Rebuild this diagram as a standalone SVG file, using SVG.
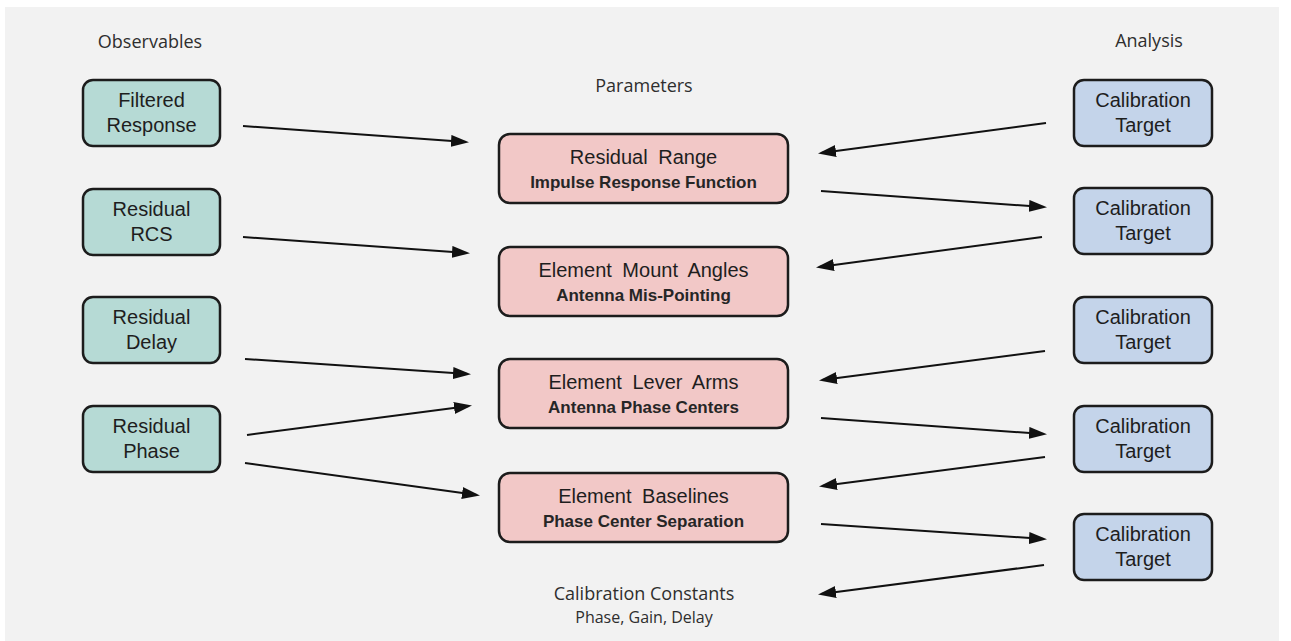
<svg xmlns="http://www.w3.org/2000/svg" width="1291" height="641" viewBox="0 0 1291 641">
  <style>
    .panel { fill: #f2f2f2; }
    .box { stroke: #1c1c1c; stroke-width: 2.5; }
    .obs { fill: #b6dad5; }
    .par { fill: #f2c8c7; }
    .ana { fill: #c4d4ea; }
    .lbl { font-family: "Liberation Sans", Arial, sans-serif; font-size: 20px; fill: #1e1e1e; text-anchor: middle; }
    .sub { font-family: "Liberation Sans", Arial, sans-serif; font-size: 17px; font-weight: bold; fill: #262626; text-anchor: middle; }
    .head { font-family: "Open Sans", "DejaVu Sans", sans-serif; font-size: 18px; fill: #2e2e2e; text-anchor: middle; }
    .small { font-family: "Open Sans", "DejaVu Sans", sans-serif; font-size: 16px; fill: #2e2e2e; text-anchor: middle; }
    .wide { word-spacing: 5px; }
    .conn path { fill: none; stroke: #111111; stroke-width: 2; marker-end: url(#arrow); }
  </style>
  <defs>
    <marker id="arrow" markerUnits="userSpaceOnUse" markerWidth="18" markerHeight="12" refX="15" refY="6" orient="auto">
      <path d="M0,0 L18,6 L0,12 Z" fill="#111111"/>
    </marker>
  </defs>

  <rect class="panel" x="5" y="7" width="1274" height="634"/>

  <!-- column headings -->
  <text class="head" x="150" y="48">Observables</text>
  <text class="head" x="644" y="92">Parameters</text>
  <text class="head" x="1149" y="47">Analysis</text>

  <!-- observables -->
  <g id="obs-filtered-response">
    <rect class="box obs" x="83" y="80" width="137" height="66" rx="10"/>
    <text class="lbl" x="151.5" y="107">Filtered</text>
    <text class="lbl" x="151.5" y="132">Response</text>
  </g>
  <g id="obs-residual-rcs">
    <rect class="box obs" x="83" y="189" width="137" height="66" rx="10"/>
    <text class="lbl" x="151.5" y="216">Residual</text>
    <text class="lbl" x="151.5" y="241">RCS</text>
  </g>
  <g id="obs-residual-delay">
    <rect class="box obs" x="83" y="297" width="137" height="66" rx="10"/>
    <text class="lbl" x="151.5" y="324">Residual</text>
    <text class="lbl" x="151.5" y="349">Delay</text>
  </g>
  <g id="obs-residual-phase">
    <rect class="box obs" x="83" y="406" width="137" height="66" rx="10"/>
    <text class="lbl" x="151.5" y="433">Residual</text>
    <text class="lbl" x="151.5" y="458">Phase</text>
  </g>

  <!-- parameters -->
  <g id="par-residual-range">
    <rect class="box par" x="499" y="134" width="289" height="69" rx="11"/>
    <text class="lbl wide" x="643.5" y="164">Residual Range</text>
    <text class="sub" x="643.5" y="188">Impulse Response Function</text>
  </g>
  <g id="par-mount-angles">
    <rect class="box par" x="499" y="247" width="289" height="69" rx="11"/>
    <text class="lbl wide" x="643.5" y="277">Element Mount Angles</text>
    <text class="sub" x="643.5" y="301">Antenna Mis-Pointing</text>
  </g>
  <g id="par-lever-arms">
    <rect class="box par" x="499" y="359" width="289" height="69" rx="11"/>
    <text class="lbl wide" x="643.5" y="389">Element Lever Arms</text>
    <text class="sub" x="643.5" y="413">Antenna Phase Centers</text>
  </g>
  <g id="par-baselines">
    <rect class="box par" x="499" y="473" width="289" height="69" rx="11"/>
    <text class="lbl wide" x="643.5" y="503">Element Baselines</text>
    <text class="sub" x="643.5" y="527">Phase Center Separation</text>
  </g>

  <g id="calibration-constants">
    <text class="head" x="644" y="600">Calibration Constants</text>
    <text class="small" x="644" y="623">Phase, Gain, Delay</text>
  </g>

  <!-- analysis -->
  <g id="ana-target-1">
    <rect class="box ana" x="1074" y="80" width="138" height="66" rx="10"/>
    <text class="lbl" x="1143" y="107">Calibration</text>
    <text class="lbl" x="1143" y="132">Target</text>
  </g>
  <g id="ana-target-2">
    <rect class="box ana" x="1074" y="188" width="138" height="66" rx="10"/>
    <text class="lbl" x="1143" y="215">Calibration</text>
    <text class="lbl" x="1143" y="240">Target</text>
  </g>
  <g id="ana-target-3">
    <rect class="box ana" x="1074" y="297" width="138" height="66" rx="10"/>
    <text class="lbl" x="1143" y="324">Calibration</text>
    <text class="lbl" x="1143" y="349">Target</text>
  </g>
  <g id="ana-target-4">
    <rect class="box ana" x="1074" y="406" width="138" height="66" rx="10"/>
    <text class="lbl" x="1143" y="433">Calibration</text>
    <text class="lbl" x="1143" y="458">Target</text>
  </g>
  <g id="ana-target-5">
    <rect class="box ana" x="1074" y="514" width="138" height="66" rx="10"/>
    <text class="lbl" x="1143" y="541">Calibration</text>
    <text class="lbl" x="1143" y="566">Target</text>
  </g>

  <!-- connectors -->
  <g id="connectors" class="conn">
    <path d="M243,126 L466,142"/>
    <path d="M243,237 L467,253"/>
    <path d="M245,359 L468,374"/>
    <path d="M247,435 L469,406"/>
    <path d="M245,463 L477,495"/>

    <path d="M1046,123 L821,153"/>
    <path d="M821,191 L1044,207"/>
    <path d="M1042,237 L819,267"/>
    <path d="M1045,351 L822,380"/>
    <path d="M821,418 L1044,434"/>
    <path d="M1045,457 L822,486"/>
    <path d="M821,524 L1044,539"/>
    <path d="M1044,565 L821,594"/>
  </g>
</svg>
